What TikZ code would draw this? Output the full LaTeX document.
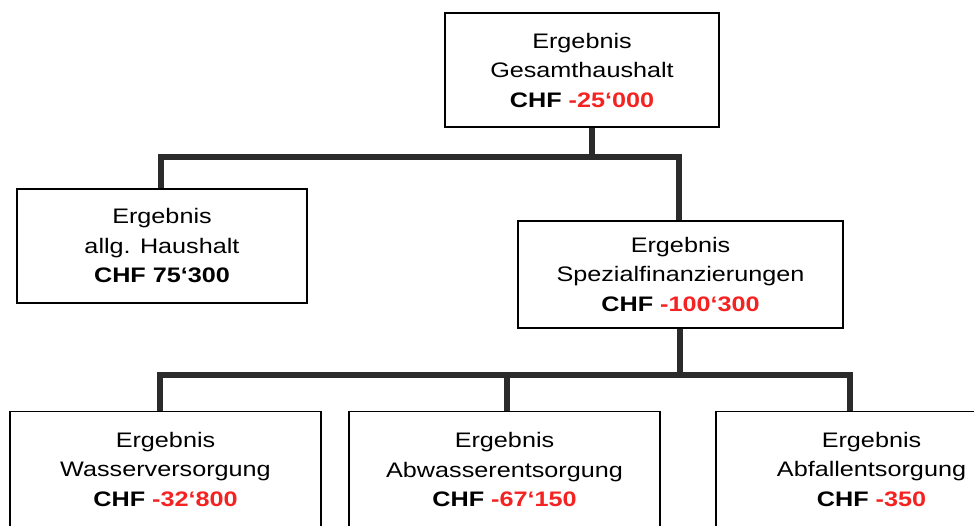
\documentclass[tikz,border=0pt]{standalone}
\usepackage{fontspec}
\setmainfont[FakeStretch=1.2]{Liberation Sans}
\definecolor{negred}{HTML}{F52222}
\definecolor{conngray}{HTML}{2B2B2B}
\begin{document}
\begin{tikzpicture}[x=1pt,y=-1pt,
  box/.style={draw=black,line width=1.3pt,fill=white,inner sep=0pt,align=center,
    font=\fontsize{21}{29.5}\selectfont},
  conn/.style={draw=conngray,line width=6pt,line join=miter}]
\useasboundingbox (0,0) rectangle (974,525);
\clip (0,0) rectangle (974,525);
% connectors
\coordinate (b0) at (592,157);
\coordinate (v0) at (161,157);
\coordinate (v4) at (679,157);
\coordinate (h2) at (680,375);
\coordinate (v1) at (160,375);
\coordinate (v2) at (507,375);
\coordinate (v3) at (850,375);
% boxes
\node[box,minimum width=274pt,minimum height=114pt] (top) at (582,70)
  {Ergebnis\\Gesamthaushalt\\\textbf{CHF \textcolor{negred}{-25‘000}}};
\node[box,minimum width=290pt,minimum height=114pt] (left) at (162,246)
  {Ergebnis\\allg. Haushalt\\\textbf{CHF 75‘300}};
\node[box,minimum width=325pt,minimum height=107pt] (spez) at (680.5,274.5)
  {Ergebnis\\Spezialfinanzierungen\\\textbf{CHF \textcolor{negred}{-100‘300}}};
\node[box,minimum width=311pt,minimum height=116pt] (wasser) at (165.5,469.5)
  {Ergebnis\\Wasserversorgung\\\textbf{CHF \textcolor{negred}{-32‘800}}};
\node[box,minimum width=311pt,minimum height=116pt] (abwasser) at (504.5,469.5)
  {Ergebnis\\Abwasserentsorgung\\\textbf{CHF \textcolor{negred}{-67‘150}}};
\node[box,minimum width=311pt,minimum height=116pt] (abfall) at (871.5,469.5)
  {Ergebnis\\Abfallentsorgung\\\textbf{CHF \textcolor{negred}{-350}}};
% lines
\draw[conn] (top.south -| b0) -- (b0);
\draw[conn] (left.north -| v0) -- (v0) -- (v4) -- (spez.north -| v4);
\draw[conn] (spez.south -| h2) -- (h2);
\draw[conn] (wasser.north -| v1) -- (v1) -- (v3) -- (abfall.north -| v3);
\draw[conn] (v2) -- (abwasser.north -| v2);
\end{tikzpicture}
\end{document}
